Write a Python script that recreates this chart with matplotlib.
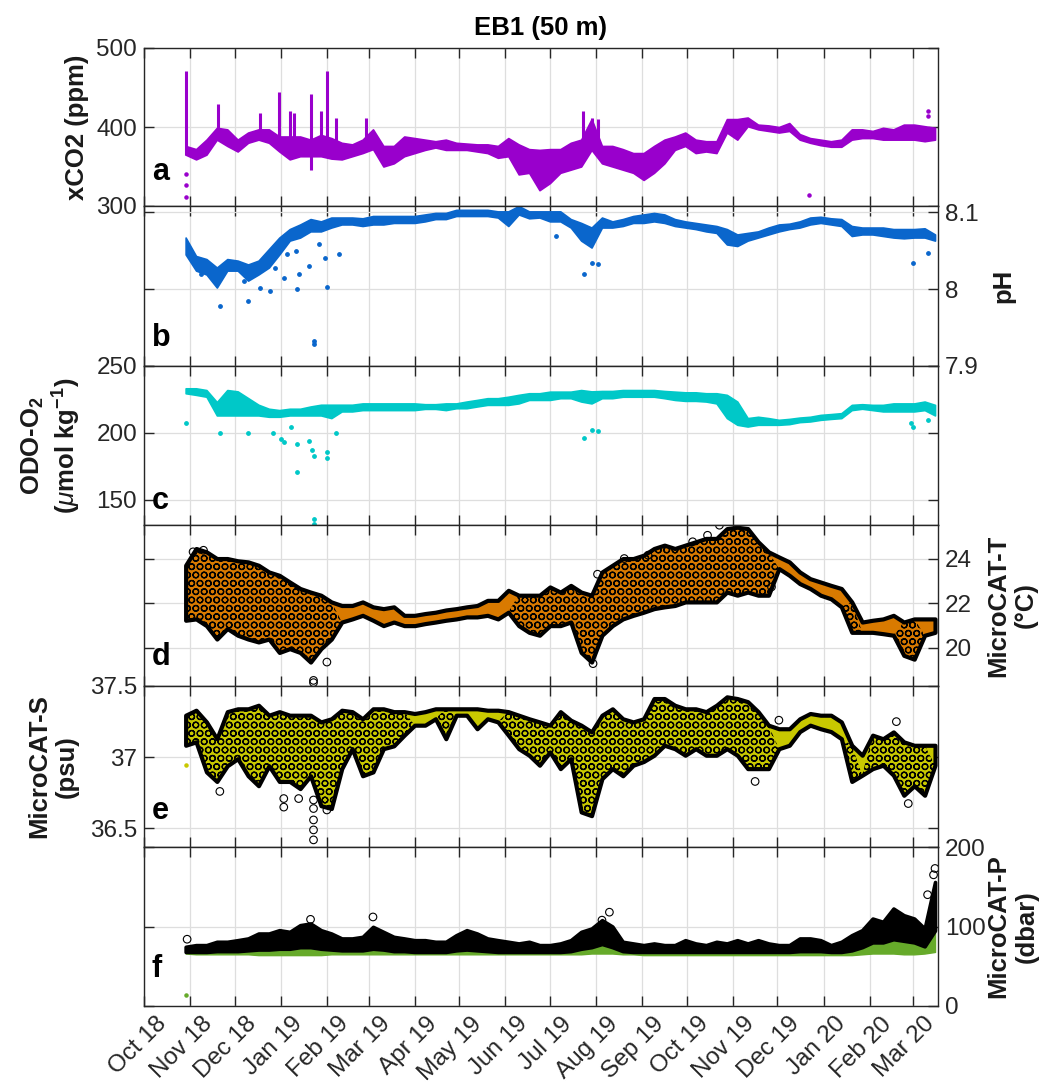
import numpy as np
import matplotlib
matplotlib.use('Agg')
import matplotlib.pyplot as plt
import matplotlib.dates as mdates
import matplotlib.transforms as mtransforms

plt.rcParams.update({
    'font.family': ['Liberation Sans', 'DejaVu Sans'],
    'font.size': 17.5,
    'axes.edgecolor': '#262626',
    'axes.linewidth': 1.0,
    'xtick.color': '#262626',
    'ytick.color': '#262626',
    'hatch.linewidth': 0.9,
    'mathtext.fontset': 'custom',
    'mathtext.rm': 'Liberation Sans:bold',
    'mathtext.bf': 'Liberation Sans:bold',
    'mathtext.it': 'Liberation Sans:italic',
    'mathtext.default': 'bf',
})

# weekly sampling of the mooring record
week = np.arange('2018-10-29', '2020-03-17', 7, dtype='datetime64[D]')

# (a) xCO2 envelope, ppm
co2_lo = [365, 359, 365, 384, 376, 369, 380, 384, 380, 369,
          359, 363, 363, 363, 360, 359, 363, 367, 372, 350,
          354, 363, 367, 371, 374, 371, 371, 371, 369, 367,
          361, 363, 340, 342, 320, 329, 342, 346, 350, 371,
          354, 350, 346, 342, 333, 342, 354, 371, 376, 367,
          369, 367, 393, 384, 401, 397, 395, 393, 395, 384,
          380, 377, 375, 375, 384, 386, 386, 384, 384, 384,
          384, 382, 384]
co2_hi = [376, 372, 384, 399, 397, 384, 393, 397, 397, 388,
          388, 388, 384, 390, 386, 380, 378, 384, 397, 376,
          376, 388, 386, 384, 382, 384, 380, 379, 378, 378,
          376, 386, 378, 372, 371, 372, 372, 380, 384, 410,
          376, 376, 372, 367, 367, 376, 384, 388, 393, 384,
          382, 382, 410, 410, 412, 403, 402, 400, 405, 391,
          386, 384, 382, 384, 397, 397, 395, 399, 397, 403,
          403, 401, 399]
co2_spike_t = ['2018-10-29', '2018-11-20', '2018-12-18', '2018-12-31', '2019-01-07',
               '2019-01-10', '2019-01-21', '2019-01-28', '2019-02-01', '2019-02-07',
               '2019-02-27', '2019-07-23', '2019-07-29', '2019-08-02']
co2_spike_lo = [365, 395, 390, 385, 380, 380, 346, 370, 375, 375, 385, 380, 380, 375]
co2_spike_hi = [471, 429, 418, 444, 420, 418, 442, 420, 471, 412, 412, 420, 412, 410]
co2_pt_t = ['2018-10-29', '2018-10-29', '2018-10-29', '2019-12-22', '2020-03-11', '2020-03-11']
co2_pt = [340, 327, 312, 314, 420, 414]

# (b) pH envelope
ph_lo = [8.045, 8.024, 8.019, 8.002, 8.024, 8.024, 8.011, 8.019, 8.028, 8.045,
         8.063, 8.067, 8.075, 8.075, 8.080, 8.084, 8.084, 8.082, 8.084, 8.084,
         8.086, 8.086, 8.086, 8.088, 8.091, 8.091, 8.095, 8.095, 8.095, 8.095,
         8.093, 8.082, 8.097, 8.092, 8.093, 8.088, 8.088, 8.080, 8.063, 8.054,
         8.080, 8.080, 8.082, 8.086, 8.086, 8.088, 8.086, 8.082, 8.080, 8.078,
         8.075, 8.073, 8.058, 8.056, 8.063, 8.067, 8.071, 8.075, 8.078, 8.080,
         8.084, 8.086, 8.084, 8.082, 8.069, 8.071, 8.071, 8.069, 8.067, 8.066,
         8.067, 8.067, 8.063]
ph_hi = [8.067, 8.043, 8.039, 8.028, 8.039, 8.037, 8.032, 8.037, 8.052, 8.067,
         8.078, 8.084, 8.091, 8.088, 8.093, 8.093, 8.093, 8.092, 8.095, 8.095,
         8.095, 8.095, 8.095, 8.097, 8.099, 8.099, 8.103, 8.103, 8.103, 8.103,
         8.101, 8.101, 8.108, 8.101, 8.101, 8.101, 8.101, 8.091, 8.086, 8.080,
         8.093, 8.088, 8.091, 8.095, 8.097, 8.099, 8.097, 8.091, 8.088, 8.086,
         8.084, 8.082, 8.078, 8.071, 8.073, 8.075, 8.080, 8.084, 8.085, 8.088,
         8.093, 8.094, 8.092, 8.091, 8.082, 8.080, 8.080, 8.080, 8.078, 8.078,
         8.078, 8.079, 8.071]
ph_pt_t = ['2018-11-08', '2018-11-21', '2018-12-07', '2018-12-10', '2018-12-13', '2018-12-18',
           '2018-12-25', '2018-12-28', '2019-01-03', '2019-01-05', '2019-01-11', '2019-01-12',
           '2019-01-13', '2019-01-20', '2019-01-23', '2019-01-23', '2019-01-27', '2019-01-31',
           '2019-02-01', '2019-02-09', '2019-07-05', '2019-07-24', '2019-07-29', '2019-08-02',
           '2020-03-01', '2020-03-11']
ph_pt = [8.019, 7.978, 8.011, 7.985, 8.019, 8.002,
         7.998, 8.028, 8.015, 8.045, 8.050, 8.000,
         8.019, 8.030, 7.933, 7.928, 8.058, 8.041,
         8.003, 8.045, 8.069, 8.019, 8.034, 8.033,
         8.034, 8.047]

# (c) dissolved oxygen envelope, umol/kg
o2_lo = [229.6, 228.4, 227, 213, 213, 213, 213, 213, 212, 212,
         213, 213, 213, 213, 211, 216, 216, 217, 217, 217,
         217, 217, 217, 217.9, 217.9, 217, 218.4, 218.4, 219.7, 220.9,
         220.9, 220.9, 222, 224.6, 224.6, 224.6, 225.9, 225.9, 223.4, 222,
         225.9, 225.9, 227, 227, 227, 227, 225.9, 224.6, 223.9, 223.9,
         223.4, 222, 211, 206, 204.7, 206, 206, 206, 206.5, 208,
         208.5, 209.7, 210.4, 211, 217, 218, 217, 216, 216, 216,
         216, 217, 213]
o2_hi = [233.3, 233.3, 232, 223, 232, 231, 226, 221, 218, 217,
         218, 218, 219.7, 221, 221, 221, 221, 222, 222, 222,
         222, 222, 222, 221.4, 221.4, 222, 222, 223.4, 224.6, 225.9,
         225.9, 227, 228.4, 229.6, 229.6, 230.8, 230.8, 230.8, 232, 231,
         231.3, 231.3, 232, 232, 232, 232, 231.3, 230.8, 230.3, 230.3,
         229.6, 229.6, 228.4, 223.4, 211, 212, 211, 209.7, 210.4, 211.4,
         212, 213.4, 214, 214.7, 220.9, 221.4, 220.9, 220.9, 222, 222,
         222, 223.4, 220.9]
o2_pt_t = ['2018-10-29', '2018-11-21', '2018-12-10', '2018-12-27', '2019-01-01', '2019-01-03',
           '2019-01-08', '2019-01-12', '2019-01-12', '2019-01-20', '2019-01-22', '2019-01-23',
           '2019-01-23', '2019-01-23', '2019-02-01', '2019-02-01', '2019-02-07', '2019-07-24',
           '2019-07-29', '2019-08-02', '2020-02-29', '2020-03-01', '2020-03-11']
o2_pt = [207.7, 199.7, 199.7, 199.7, 195.5, 193,
         204.7, 191.5, 171, 194, 187.5, 182.3,
         135.5, 132, 185.6, 181, 199.7, 196,
         202, 201, 207.7, 204, 209.7]

# (d) MicroCAT temperature envelope, degC
t_lo = [21.24, 21.3, 21.0, 20.4, 20.87, 20.57, 20.4, 20.27, 20.4, 19.8,
        19.97, 19.8, 19.37, 19.97, 20.4, 21.16, 21.3, 21.46, 21.24, 21.0,
        21.16, 21.0, 21.0, 21.09, 21.16, 21.24, 21.3, 21.39, 21.39, 21.46,
        21.3, 21.6, 21.0, 20.7, 20.57, 21.0, 21.0, 21.16, 19.8, 19.37,
        20.57, 21.0, 21.3, 21.46, 21.6, 21.76, 21.84, 21.9, 22.06, 22.06,
        22.06, 22.06, 22.5, 22.36, 22.5, 22.36, 22.36, 23.55, 23.25, 22.88,
        22.66, 22.36, 22.2, 21.84, 20.7, 20.7, 20.7, 20.64, 20.57, 19.67,
        19.5, 20.57, 20.7]
t_hi = [23.7, 24.45, 24.3, 24.0, 24.0, 23.9, 23.85, 23.7, 23.4, 23.25,
        22.95, 22.66, 22.5, 22.36, 22.06, 21.9, 21.9, 22.06, 21.84, 21.76,
        21.84, 21.46, 21.46, 21.54, 21.6, 21.7, 21.76, 21.84, 21.9, 22.13,
        22.13, 22.58, 22.36, 22.36, 22.36, 22.73, 22.5, 22.8, 22.5, 22.36,
        23.4, 23.7, 24.0, 24.0, 24.15, 24.45, 24.6, 24.45, 24.6, 24.75,
        24.9, 24.9, 25.34, 25.4, 25.34, 24.75, 24.3, 24.07, 23.85, 23.4,
        23.1, 22.95, 22.8, 22.66, 22.06, 21.16, 21.24, 21.3, 21.46, 21.16,
        21.3, 21.3, 21.3]
t_pt_t = ['2018-11-03', '2018-11-10', '2019-01-23', '2019-01-23', '2019-02-01', '2019-07-30',
          '2019-08-02', '2019-08-20', '2019-09-05', '2019-10-05', '2019-10-15', '2019-10-23',
          '2019-11-27']
t_pt = [24.3, 24.37, 18.55, 18.45, 19.37, 19.3,
        23.3, 24.0, 24.15, 24.75, 25.04, 25.49,
        22.73]

# (e) MicroCAT salinity envelope, psu
s_lo = [37.084, 37.108, 36.897, 36.83, 36.94, 36.99, 36.87, 36.80, 36.94, 36.83,
        36.83, 36.78, 36.87, 36.66, 36.64, 36.92, 37.06, 36.87, 36.897, 37.06,
        37.08, 37.155, 37.225, 37.225, 37.27, 37.13, 37.295, 37.295, 37.2, 37.27,
        37.248, 37.155, 37.06, 37.014, 36.944, 37.037, 36.92, 36.99, 36.616, 36.59,
        36.85, 36.92, 36.87, 36.944, 36.97, 37.014, 37.084, 37.06, 37.014, 37.06,
        37.014, 37.014, 37.06, 37.014, 36.92, 36.92, 36.92, 37.06, 37.084, 37.18,
        37.225, 37.2, 37.18, 37.13, 36.83, 36.874, 36.92, 36.944, 36.874, 36.733,
        36.80, 36.733, 36.944]
s_hi = [37.295, 37.33, 37.248, 37.13, 37.32, 37.34, 37.34, 37.365, 37.295, 37.32,
        37.295, 37.295, 37.295, 37.248, 37.27, 37.33, 37.32, 37.27, 37.34, 37.34,
        37.32, 37.32, 37.307, 37.32, 37.34, 37.34, 37.34, 37.34, 37.34, 37.33,
        37.33, 37.32, 37.295, 37.27, 37.248, 37.225, 37.32, 37.26, 37.225, 37.178,
        37.295, 37.34, 37.27, 37.248, 37.27, 37.412, 37.412, 37.365, 37.34, 37.34,
        37.32, 37.365, 37.424, 37.412, 37.39, 37.32, 37.225, 37.2, 37.2, 37.27,
        37.307, 37.295, 37.295, 37.248, 37.084, 37.014, 37.155, 37.13, 37.178, 37.108,
        37.084, 37.084, 37.084]
s_pt_t = ['2018-11-21', '2019-01-03', '2019-01-03', '2019-01-13', '2019-01-23', '2019-01-23',
          '2019-01-23', '2019-01-23', '2019-01-23', '2019-02-01', '2019-11-16', '2019-12-02',
          '2020-02-19', '2020-02-27']
s_pt = [36.76, 36.71, 36.65, 36.71, 36.70, 36.64,
        36.56, 36.49, 36.42, 36.63, 36.83, 37.26,
        37.25, 36.675]

# (f) MicroCAT pressure: green floor, bottom of dense black cloud, top envelope (dbar)
p_lo = [66, 65, 65, 65, 65, 65, 65, 64, 64, 64,
        64, 64, 64, 64, 65, 65, 65, 65, 65, 65,
        65, 65, 65, 65, 65, 65, 65, 65, 65, 65,
        65, 65, 65, 65, 65, 65, 65, 65, 65, 66,
        66, 66, 65, 65, 64, 64, 64, 64, 64, 64,
        64, 64, 64, 64, 64, 64, 64, 64, 64, 64,
        64, 64, 64, 64, 64, 65, 66, 66, 66, 65,
        65, 66, 68]
p_mid = [68, 68, 68, 69, 69, 69, 70, 71, 71, 72,
         72, 74, 74, 72, 71, 70, 70, 70, 72, 71,
         69, 69, 68, 68, 68, 68, 70, 71, 70, 69,
         68, 68, 68, 68, 68, 68, 68, 69, 72, 74,
         78, 74, 69, 68, 68, 68, 68, 68, 68, 68,
         68, 68, 68, 68, 68, 68, 68, 68, 68, 69,
         69, 69, 68, 68, 70, 74, 80, 80, 84, 82,
         80, 75, 95]
p_hi = [74.5, 76.6, 76.6, 80.8, 80.8, 82.8, 85, 91.2, 91.2, 95.4,
        93.3, 101.7, 103.8, 95.4, 91.2, 85, 85, 87, 99.6, 93.3,
        87, 85, 82.8, 82.8, 80.8, 80.8, 89.1, 95.4, 91.2, 85,
        82.8, 80.8, 78.7, 80.8, 76.6, 76.6, 78.7, 82.8, 93.3, 97.5,
        108, 100, 80.8, 78.7, 76.6, 78.7, 76.6, 76.6, 82.8, 78.7,
        76.6, 80.8, 78.7, 82.8, 78.7, 82.8, 78.7, 76.6, 76.6, 85,
        85, 82.8, 76.6, 80.8, 89.1, 95.4, 110, 105.9, 122.6, 114.2,
        110, 97.5, 156]
p_pt_t = ['2018-10-30', '2019-01-21', '2019-03-04', '2019-08-05', '2019-08-10',
          '2020-03-11', '2020-03-15', '2020-03-16']
p_pt = [84, 109, 112, 108, 118, 140, 165, 173]

colors = ['#9900cc', '#0a66cc', '#00c8c8', '#d97a00', '#c8c800', '#66aa2a']

fig = plt.figure(figsize=(10.53, 10.84), dpi=100)
W, H = 1053.0, 1084.0
left, right = 144, 938
edges = [48, 206, 366, 525, 686, 847, 1006]
axes = []
for k in range(6):
    top, bot = edges[k], edges[k + 1]
    ax = fig.add_axes([left / W, (H - bot) / H, (right - left) / W, (bot - top) / H])
    axes.append(ax)

def d64(lst):
    return np.array(lst, dtype='datetime64[D]')

ax_a, ax_b, ax_c, ax_d, ax_e, ax_f = axes

# a: xCO2
ax_a.fill_between(week, co2_lo, co2_hi, facecolor=colors[0], edgecolor=colors[0], lw=1.2, zorder=3)
ax_a.vlines(d64(co2_spike_t), co2_spike_lo, co2_spike_hi, color=colors[0], lw=2.2, zorder=3)
ax_a.scatter(d64(co2_pt_t), co2_pt, s=5, color=colors[0], zorder=3)

# b: pH
ax_b.fill_between(week, ph_lo, ph_hi, facecolor=colors[1], edgecolor=colors[1], lw=1.2, zorder=3)
ax_b.scatter(d64(ph_pt_t), ph_pt, s=6, color=colors[1], zorder=3)

# c: O2
ax_c.fill_between(week, o2_lo, o2_hi, facecolor=colors[2], edgecolor=colors[2], lw=1.2, zorder=3)
ax_c.scatter(d64(o2_pt_t), o2_pt, s=6, color=colors[2], zorder=3)

# d, e: MicroCAT T and S, raw (open circles) under cleaned (coloured);
# the noisy stretches get a circle hatch
for ax, lo, hi, pt_t, pt, c, noisy in [(ax_d, t_lo, t_hi, t_pt_t, t_pt, colors[3], 1.0),
                                       (ax_e, s_lo, s_hi, s_pt_t, s_pt, colors[4], 0.16)]:
    lo = np.array(lo)
    hi = np.array(hi)
    ax.fill_between(week, lo, hi, facecolor=c, edgecolor='black', lw=3.0, zorder=3)
    ax.fill_between(week, lo, hi, where=(hi - lo) > noisy, interpolate=True,
                    facecolor='none', edgecolor='black', hatch='OO', lw=0, zorder=4)
    ax.scatter(d64(pt_t), pt, s=30, facecolors='none', edgecolors='black', lw=0.8, zorder=4)
ax_e.scatter(d64(['2018-10-29']), [36.944], s=5, color=colors[4], zorder=3)

# f: MicroCAT P
ax_f.fill_between(week, p_lo, p_hi, facecolor=colors[5], edgecolor=colors[5], lw=1.0, zorder=3)
ax_f.fill_between(week, p_mid, p_hi, facecolor='black', edgecolor='black', lw=2.6, zorder=4)
ax_f.scatter(d64(p_pt_t), p_pt, s=30, facecolors='none', edgecolors='black', lw=0.8, zorder=4)
ax_f.scatter(d64(['2018-10-29']), [13.8], s=5, color=colors[5], zorder=3)

ylims = [(300, 500), (7.9, 8.108), (131, 250), (18.3, 25.5), (36.37, 37.5), (0, 200)]
yticks = [[300, 400, 500], [7.9, 8.0, 8.1], [150, 200, 250], [20, 22, 24],
          [36.5, 37.0, 37.5], [0, 100, 200]]
ytlabels = [['300', '400', '500'], ['7.9', '8', '8.1'], ['150', '200', '250'],
            ['20', '22', '24'], ['36.5', '37', '37.5'], ['0', '100', '200']]
right_side = [False, True, False, True, False, True]
ylabels = ['xCO2 (ppm)', 'pH', 'ODO-O$_2$\n($\\mathit{\\mu}$mol kg$^{-1}$)',
           'MicroCAT-T\n(\u00b0C)', 'MicroCAT-S\n(psu)', 'MicroCAT-P\n(dbar)']
label_x = [-0.084, 1.082, -0.117, 1.093, -0.115, 1.094]
letters = ['a', 'b', 'c', 'd', 'e', 'f']
letter_y = [0.165, 0.125, 0.10, 0.13, 0.176, 0.18]

for k, ax in enumerate(axes):
    ax.set_xlim(np.datetime64('2018-10-01'), np.datetime64('2020-03-18'))
    ax.set_ylim(*ylims[k])
    ax.set_yticks(yticks[k])
    ax.set_yticklabels(ytlabels[k])
    ax.xaxis.set_major_locator(mdates.MonthLocator(bymonthday=1))
    ax.xaxis.set_major_formatter(mdates.DateFormatter('%b %y'))
    ax.grid(True, color='#dedede', lw=0.9, zorder=0)
    ax.set_axisbelow(True)
    ax.tick_params(direction='in', length=7, width=1.0, top=True, bottom=True,
                   left=True, right=True, labelsize=17.5, pad=5)
    if right_side[k]:
        ax.tick_params(labelleft=False, labelright=True)
    if k < 5:
        ax.tick_params(labelbottom=False)
    for sp in ax.spines.values():
        sp.set_zorder(6)
    ax.text(label_x[k], 0.5, ylabels[k], transform=ax.transAxes, rotation=90,
            ha='center', va='center', multialignment='center',
            fontsize=18.5, fontweight='bold', color='#1a1a1a')
    ax.text(0.01, letter_y[k], letters[k], transform=ax.transAxes, ha='left',
            va='baseline', fontsize=22, fontweight='bold', zorder=7)

# rotated month labels, nudged right so their ends sit just past the ticks
shift = mtransforms.ScaledTranslation(0.11, 0, fig.dpi_scale_trans)
for lbl in ax_f.get_xticklabels():
    lbl.set_rotation(45)
    lbl.set_ha('right')
    lbl.set_rotation_mode('anchor')
    lbl.set_transform(lbl.get_transform() + shift)

fig.text(541 / W, 1 - 28 / H, 'EB1 (50 m)', ha='center', va='center',
         fontsize=18.5, fontweight='bold')

fig.savefig('out.png', dpi=100)
